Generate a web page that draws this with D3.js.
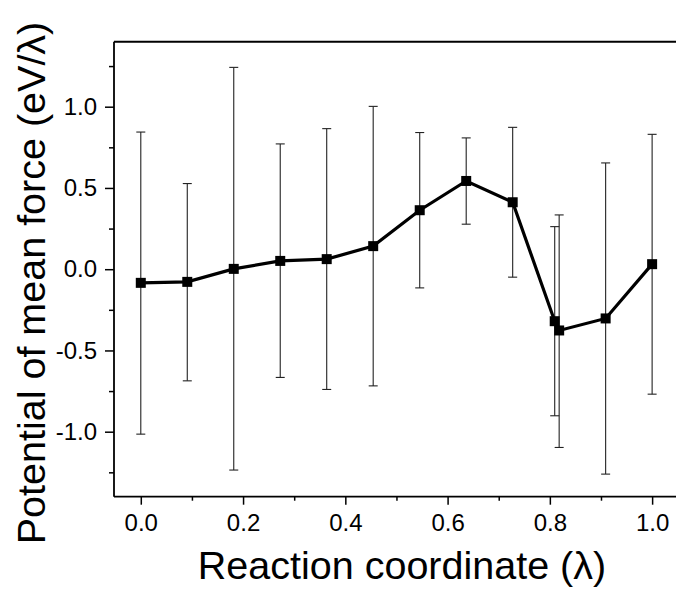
<!DOCTYPE html>
<html>
<head>
<meta charset="utf-8">
<script src="https://cdn.jsdelivr.net/npm/d3@7"></script>
<style>
  body { margin: 0; background: #fff; }
  svg { display: block; font-family: "Liberation Sans", Arial, sans-serif; }
</style>
</head>
<body>
<svg id="chart" width="676" height="594"></svg>
<script>
// reaction coordinate values
var lambda = [0, 0.0909, 0.1818, 0.2727, 0.3636, 0.4545, 0.5455, 0.6364, 0.7273, 0.8095, 0.8182, 0.9091, 1.0]
// potential of mean force
var pmf = [-0.084, -0.078, 0.002, 0.051, 0.062, 0.142, 0.363, 0.543, 0.412, -0.320, -0.377, -0.303, 0.031]
// error bar ends
var errTop = [0.844, 0.527, 1.242, 0.771, 0.865, 1.002, 0.841, 0.808, 0.873, 0.262, 0.334, 0.654, 0.830]
var errBottom = [-1.015, -0.687, -1.236, -0.666, -0.740, -0.718, -0.115, 0.277, -0.049, -0.902, -1.097, -1.261, -0.769]

var xMajor = [0, 0.2, 0.4, 0.6, 0.8, 1.0]
var xMinor = [0.1, 0.3, 0.5, 0.7, 0.9]
var yMajor = [-1.0, -0.5, 0.0, 0.5, 1.0]
var yMinor = [-1.25, -0.75, -0.25, 0.25, 0.75, 1.25]

var plotL = 114, plotR = 676, plotT = 41.7, plotB = 496.7

var x = d3.scaleLinear().domain([-0.0524, 1.0467]).range([plotL, plotR])
var y = d3.scaleLinear().domain([-1.4, 1.4]).range([plotB, plotT])

// plain hyphen as minus sign, like the original
var fmt = function(d) { return d3.format(".1f")(d).replace("\u2212", "-") }

var svg = d3.select("#chart")

var data = lambda.map(function(d, i) {
  return { x: d, y: pmf[i], hi: errTop[i], lo: errBottom[i] }
})

// error bars
var eb = svg.append("g").attr("stroke", "#222").attr("stroke-width", 1.1)
eb.selectAll("line.v").data(data).enter().append("line")
  .attr("x1", function(d) { return x(d.x) })
  .attr("x2", function(d) { return x(d.x) })
  .attr("y1", function(d) { return y(d.hi) })
  .attr("y2", function(d) { return y(d.lo) })
eb.selectAll("line.t").data(data).enter().append("line")
  .attr("x1", function(d) { return x(d.x) - 4.5 })
  .attr("x2", function(d) { return x(d.x) + 4.5 })
  .attr("y1", function(d) { return y(d.hi) })
  .attr("y2", function(d) { return y(d.hi) })
eb.selectAll("line.b").data(data).enter().append("line")
  .attr("x1", function(d) { return x(d.x) - 4.5 })
  .attr("x2", function(d) { return x(d.x) + 4.5 })
  .attr("y1", function(d) { return y(d.lo) })
  .attr("y2", function(d) { return y(d.lo) })

// connecting line
var line = d3.line().x(function(d) { return x(d.x) }).y(function(d) { return y(d.y) })
svg.append("path").datum(data)
  .attr("d", line)
  .attr("fill", "none")
  .attr("stroke", "#000")
  .attr("stroke-width", 3.2)

// square markers
svg.selectAll("rect.pt").data(data).enter().append("rect")
  .attr("x", function(d) { return x(d.x) - 5 })
  .attr("y", function(d) { return y(d.y) - 5 })
  .attr("width", 10)
  .attr("height", 10)
  .attr("fill", "#000")

// x axis
var xAxis = svg.append("g").attr("transform", "translate(0," + plotB + ")")
xAxis.call(d3.axisBottom(x).tickValues(xMajor).tickSize(8).tickFormat(fmt))
xAxis.append("g").call(d3.axisBottom(x).tickValues(xMinor).tickSize(4).tickFormat(""))
xAxis.selectAll(".domain").remove()
xAxis.selectAll("line").attr("stroke", "#000").attr("stroke-width", 1.5)
xAxis.attr("font-size", 24).attr("font-family", "Liberation Sans, Arial, sans-serif")
xAxis.selectAll("text")
  .attr("fill", "#000")
  .attr("y", 17)
  .attr("dy", "0.71em")
xAxis.append("line").attr("x1", plotL).attr("x2", plotR)
  .attr("stroke", "#000").attr("stroke-width", 1.8)

// y axis
var yAxis = svg.append("g").attr("transform", "translate(" + plotL + ",0)")
yAxis.call(d3.axisLeft(y).tickValues(yMajor).tickSize(9).tickFormat(fmt))
yAxis.append("g").call(d3.axisLeft(y).tickValues(yMinor).tickSize(5).tickFormat(""))
yAxis.selectAll(".domain").remove()
yAxis.selectAll("line").attr("stroke", "#000").attr("stroke-width", 1.5)
yAxis.attr("font-size", 24).attr("font-family", "Liberation Sans, Arial, sans-serif")
yAxis.selectAll("text")
  .attr("fill", "#000")
  .attr("x", -17)
yAxis.append("line").attr("y1", plotT).attr("y2", plotB)
  .attr("stroke", "#000").attr("stroke-width", 1.8)

// top frame line
svg.append("line").attr("x1", plotL).attr("x2", plotR).attr("y1", plotT).attr("y2", plotT)
  .attr("stroke", "#000").attr("stroke-width", 2)

// axis titles
svg.append("text")
  .attr("x", 402).attr("y", 579)
  .attr("text-anchor", "middle")
  .attr("font-size", 39.5)
  .text("Reaction coordinate (\u03bb)")

svg.append("text")
  .attr("transform", "translate(45,283) rotate(-90)")
  .attr("text-anchor", "middle")
  .attr("font-size", 39.5)
  .text("Potential of mean force (eV/\u03bb)")
</script>
</body>
</html>
